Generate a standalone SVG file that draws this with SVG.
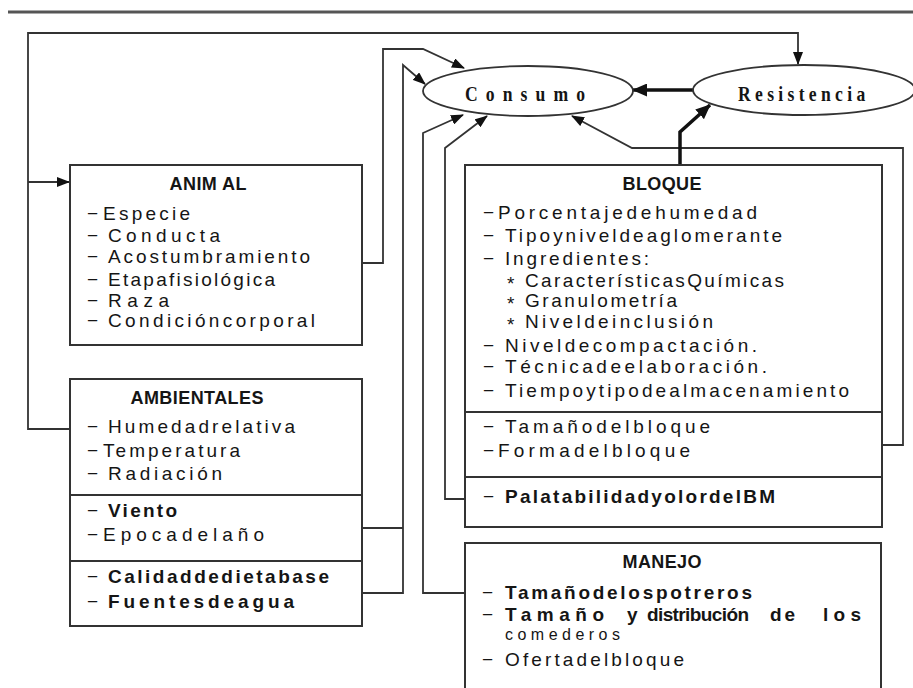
<svg xmlns="http://www.w3.org/2000/svg" width="913" height="688" viewBox="0 0 913 688">
<defs>
<style>
.box{fill:#fff;stroke:#333;stroke-width:2}
.div{stroke:#333;stroke-width:2}
.ln{fill:none;stroke:#333;stroke-width:1.8}
.thick{fill:none;stroke:#111;stroke-width:3.5}
.ell{fill:#fff;stroke:#333;stroke-width:1.8}
.t{font-family:"Liberation Sans",Arial,sans-serif;font-size:19px;fill:#151515}
.b{font-weight:bold}
.h{font-family:"Liberation Sans",Arial,sans-serif;font-size:18px;font-weight:bold;fill:#151515;text-anchor:middle}
.s{font-family:"Liberation Serif","Times New Roman",serif;font-size:22px;font-weight:bold;fill:#151515}
</style>
<marker id="ar" markerUnits="userSpaceOnUse" markerWidth="13" markerHeight="10" refX="12" refY="5" orient="auto">
<path d="M0,0 L13,5 L0,10 z" fill="#111"/>
</marker>
<marker id="ar2" markerUnits="userSpaceOnUse" markerWidth="15" markerHeight="13" refX="14" refY="6.5" orient="auto">
<path d="M0,0 L15,6.5 L0,13 z" fill="#111"/>
</marker>
</defs>
<rect width="913" height="688" fill="#fff"/>
<line x1="8" y1="12" x2="913" y2="12" stroke="#555" stroke-width="3"/>

<g id="connectors">
<path class="ln" d="M70,429 H28 V33 H798 V64" marker-end="url(#ar)"/>
<path class="ln" d="M28,182 H69" marker-end="url(#ar)"/>
<path class="ln" d="M362,263 H383 V49 H423 L464,68" marker-end="url(#ar)"/>
<path class="ln" d="M362,528 H403"/>
<path class="ln" d="M362,593 H403 V65 L425,84" marker-end="url(#ar)"/>
<path class="ln" d="M465,593 H423 V133 L463,115" marker-end="url(#ar)"/>
<path class="ln" d="M465,499 H445 V148 L487,116" marker-end="url(#ar)"/>
<path class="ln" d="M882,445 H903 V148 H632 L572,116" marker-end="url(#ar)"/>
<path class="thick" d="M680,165 V132 L710,105" marker-end="url(#ar2)"/>
<path class="thick" d="M693,90 H633" marker-end="url(#ar2)"/>
</g>

<g id="consumo">
<ellipse class="ell" cx="528" cy="91" rx="105" ry="25"/>
<text class="s" transform="translate(465,101) scale(0.8,1)" textLength="150" lengthAdjust="spacing">Consumo</text>
</g>

<g id="resistencia">
<ellipse class="ell" cx="804" cy="90" rx="111" ry="25"/>
<text class="s" transform="translate(738,101) scale(0.8,1)" textLength="159" lengthAdjust="spacing">Resistencia</text>
</g>

<g id="animal">
<rect class="box" x="70" y="165" width="292" height="180"/>
<text class="h" x="208" y="190" textLength="77" lengthAdjust="spacing">ANIM AL</text>
<text class="t" x="87" y="220">−</text><text class="t" x="103" y="220" textLength="87" lengthAdjust="spacing">Especie</text>
<text class="t" x="87" y="242">−</text><text class="t" x="108" y="242" textLength="112" lengthAdjust="spacing">Conducta</text>
<text class="t" x="87" y="263">−</text><text class="t" x="108" y="263" textLength="202" lengthAdjust="spacing">Acostumbramiento</text>
<text class="t" x="87" y="286">−</text><text class="t" x="108" y="286" textLength="167" lengthAdjust="spacing">Etapafisiológica</text>
<text class="t" x="87" y="307">−</text><text class="t" x="108" y="307" textLength="61" lengthAdjust="spacing">Raza</text>
<text class="t" x="87" y="327">−</text><text class="t" x="108" y="327" textLength="207" lengthAdjust="spacing">Condicióncorporal</text>
</g>

<g id="ambientales">
<rect class="box" x="70" y="379" width="292" height="247"/>
<line class="div" x1="70" y1="495" x2="362" y2="495"/>
<line class="div" x1="70" y1="561" x2="362" y2="561"/>
<text class="h" x="197" y="404" textLength="133" lengthAdjust="spacing">AMBIENTALES</text>
<text class="t" x="87" y="433">−</text><text class="t" x="108" y="433" textLength="187" lengthAdjust="spacing">Humedadrelativa</text>
<text class="t" x="87" y="457">−</text><text class="t" x="103" y="457" textLength="137" lengthAdjust="spacing">Temperatura</text>
<text class="t" x="87" y="480">−</text><text class="t" x="108" y="480" textLength="114" lengthAdjust="spacing">Radiación</text>
<text class="t" x="87" y="517">−</text><text class="t b" x="108" y="517" textLength="69" lengthAdjust="spacing">Viento</text>
<text class="t" x="87" y="541">−</text><text class="t" x="103" y="541" textLength="161" lengthAdjust="spacing">Epocadelaño</text>
<text class="t" x="87" y="583">−</text><text class="t b" x="108" y="583" textLength="221" lengthAdjust="spacing">Calidaddedietabase</text>
<text class="t" x="87" y="608">−</text><text class="t b" x="108" y="608" textLength="186" lengthAdjust="spacing">Fuentesdeagua</text>
</g>

<g id="bloque">
<rect class="box" x="465" y="165" width="417" height="362"/>
<line class="div" x1="465" y1="412" x2="882" y2="412"/>
<line class="div" x1="465" y1="477" x2="882" y2="477"/>
<text class="h" x="662" y="190" textLength="79" lengthAdjust="spacing">BLOQUE</text>
<text class="t" x="483" y="219">−</text><text class="t" x="498" y="219" textLength="259" lengthAdjust="spacing">Porcentajedehumedad</text>
<text class="t" x="483" y="242">−</text><text class="t" x="505" y="242" textLength="277" lengthAdjust="spacing">Tipoyniveldeaglomerante</text>
<text class="t" x="483" y="265">−</text><text class="t" x="505" y="265" textLength="144" lengthAdjust="spacing">Ingredientes:</text>
<text class="t" x="507" y="290">*</text><text class="t" x="525" y="287" textLength="259" lengthAdjust="spacing">CaracterísticasQuímicas</text>
<text class="t" x="507" y="310">*</text><text class="t" x="525" y="307" textLength="152" lengthAdjust="spacing">Granulometría</text>
<text class="t" x="507" y="331">*</text><text class="t" x="525" y="328" textLength="188" lengthAdjust="spacing">Niveldeinclusión</text>
<text class="t" x="483" y="352">−</text><text class="t" x="505" y="352" textLength="252" lengthAdjust="spacing">Niveldecompactación.</text>
<text class="t" x="483" y="373">−</text><text class="t" x="505" y="373" textLength="262" lengthAdjust="spacing">Técnicadeelaboración.</text>
<text class="t" x="483" y="397">−</text><text class="t" x="505" y="397" textLength="344" lengthAdjust="spacing">Tiempoytipodealmacenamiento</text>
<text class="t" x="483" y="433">−</text><text class="t" x="505" y="433" textLength="205" lengthAdjust="spacing">Tamañodelbloque</text>
<text class="t" x="483" y="457">−</text><text class="t" x="498" y="457" textLength="192" lengthAdjust="spacing">Formadelbloque</text>
<text class="t" x="483" y="503">−</text><text class="t b" x="505" y="503" textLength="270" lengthAdjust="spacing">PalatabilidadyolordelBM</text>
</g>

<g id="manejo">
<path class="box" d="M465,690 V543 H881 V690"/>
<text class="h" x="662" y="568" textLength="79" lengthAdjust="spacing">MANEJO</text>
<text class="t" x="482" y="599">−</text><text class="t b" x="505" y="599" textLength="247" lengthAdjust="spacing">Tamañodelospotreros</text>
<text class="t" x="482" y="621">−</text>
<text class="t b" x="505" y="621" textLength="99" lengthAdjust="spacing">Tamaño</text>
<text class="t b" x="627" y="621">y</text>
<text class="t b" x="647" y="621" textLength="102" lengthAdjust="spacing">distribución</text>
<text class="t b" x="770" y="621" textLength="25" lengthAdjust="spacing">de</text>
<text class="t b" x="823" y="621" textLength="38" lengthAdjust="spacing">los</text>
<text class="t" x="505" y="640" style="font-size:16px" textLength="115" lengthAdjust="spacing">comederos</text>
<text class="t" x="482" y="666">−</text><text class="t" x="505" y="666" textLength="179" lengthAdjust="spacing">Ofertadelbloque</text>
</g>
</svg>
